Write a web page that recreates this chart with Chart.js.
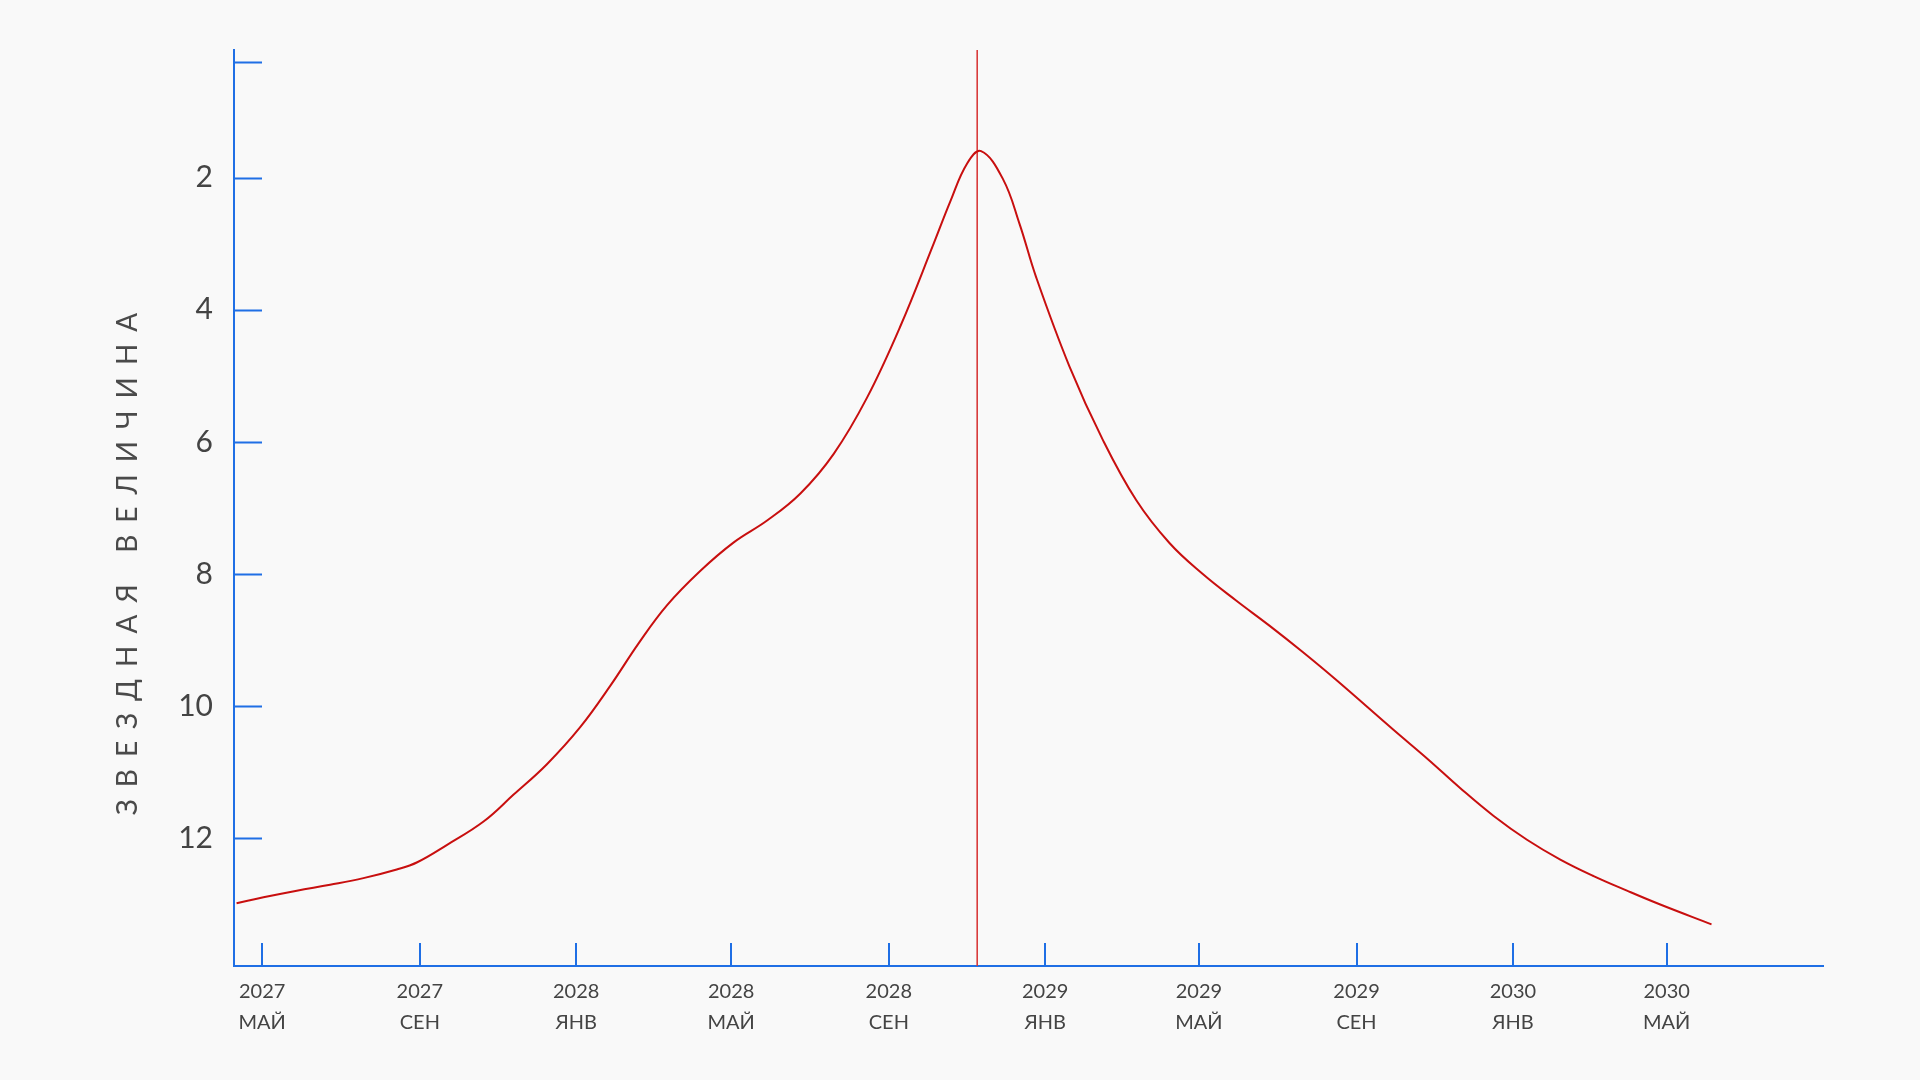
<!DOCTYPE html>
<html lang="ru">
<head>
<meta charset="utf-8">
<title>Звездная величина</title>
<script src="https://cdn.jsdelivr.net/npm/chart.js@4.4.1/dist/chart.umd.min.js"></script>
<style>
    html, body { margin: 0; padding: 0; background: #f9f9f9; }
    #wrap { width: 1920px; height: 1080px; }
</style>
</head>
<body>
<div id="wrap"><canvas id="chart" width="1920" height="1080"></canvas></div>
<script>
// дни от 1 мая 2027
const startDate = '2027-05-01';
const days = [-20, 1, 27, 53, 79, 105, 121, 144, 173, 196, 222, 248, 272, 294, 316, 342, 368, 394, 420,
    446, 472, 498, 524, 537, 550, 561, 578, 591, 604, 630, 656, 682, 708, 734, 760, 786, 812, 838,
    883, 909, 935, 961, 987, 1013, 1039, 1065, 1091, 1131];
const magnitudes = [12.98, 12.89, 12.79, 12.70, 12.60, 12.47, 12.36, 12.10, 11.74, 11.34, 10.88, 10.32, 9.68,
    9.04, 8.47, 7.95, 7.52, 7.19, 6.78, 6.18, 5.33, 4.25, 3.00, 2.36, 1.79, 1.60, 2.02, 2.70, 3.51,
    4.86, 5.97, 6.88, 7.53, 8.00, 8.40, 8.78, 9.18, 9.60, 10.36, 10.79, 11.24, 11.66, 12.02,
    12.32, 12.57, 12.79, 13.00, 13.30];
const perihelionDay = 558;

const xTickDates = ['2027-05-01', '2027-09-01', '2028-01-01', '2028-05-01', '2028-09-01',
    '2029-01-01', '2029-05-01', '2029-09-01', '2030-01-01', '2030-05-01'];
const xTickYears = ['2027', '2027', '2028', '2028', '2028', '2029', '2029', '2029', '2030', '2030'];
const xTickMonths = ['МАЙ', 'СЕН', 'ЯНВ', 'МАЙ', 'СЕН', 'ЯНВ', 'МАЙ', 'СЕН', 'ЯНВ', 'МАЙ'];
const yTicks = [0.25, 2, 4, 6, 8, 10, 12];
const yTitle = 'ЗВЕЗДНАЯ ВЕЛИЧИНА';

const xMin = -22, xMax = 1218;
const yMin = 0.07, yMax = 13.93;
const axisColor = '#1f6fe5';
const textColor = '#444444';

const dayOf = d => (Date.parse(d) - Date.parse(startDate)) / 86400000;
const xTickDays = xTickDates.map(dayOf);

const innerTicks = {
    id: 'innerTicks',
    afterDraw(chart) {
        const { ctx, chartArea, scales: { x, y } } = chart;
        ctx.save();
        ctx.strokeStyle = axisColor;
        ctx.lineWidth = 2;
        ctx.beginPath();
        y.ticks.forEach(t => {
            const py = Math.round(y.getPixelForValue(t.value)) + 0.5;
            ctx.moveTo(chartArea.left, py);
            ctx.lineTo(chartArea.left + 28, py);
        });
        x.ticks.forEach(t => {
            const px = Math.round(x.getPixelForValue(t.value));
            ctx.moveTo(px, chartArea.bottom);
            ctx.lineTo(px, chartArea.bottom - 23);
        });
        ctx.stroke();

        // подпись оси Y с разрядкой
        ctx.translate(128, (chartArea.top + chartArea.bottom) / 2 + 50);
        ctx.rotate(-Math.PI / 2);
        ctx.fillStyle = '#4a4a4a';
        ctx.font = '28px Lato';
        ctx.letterSpacing = '12px';
        ctx.textAlign = 'center';
        ctx.textBaseline = 'middle';
        ctx.fillText(yTitle, 0, 0);
        ctx.restore();
    }
};

new Chart(document.getElementById('chart'), {
    type: 'line',
    data: {
        datasets: [{
            data: days.map((d, i) => ({ x: d, y: magnitudes[i] })),
            borderColor: '#c80f0f',
            borderWidth: 2,
            pointRadius: 0,
            tension: 0.4
        }, {
            data: [{ x: perihelionDay, y: yMin }, { x: perihelionDay, y: yMax }],
            borderColor: '#d83a3a',
            borderWidth: 1,
            pointRadius: 0
        }]
    },
    options: {
        responsive: false,
        animation: false,
        layout: {
            padding: { top: 50, right: 97, left: 0, bottom: 0 }
        },
        plugins: {
            legend: { display: false },
            tooltip: { enabled: false }
        },
        scales: {
            x: {
                type: 'linear',
                min: xMin,
                max: xMax,
                afterBuildTicks: scale => {
                    scale.ticks = xTickDays.map(v => ({ value: v }));
                },
                afterFit: scale => { scale.height = 114; },
                grid: { display: true, drawOnChartArea: false, drawTicks: false },
                border: { color: axisColor, width: 2 },
                ticks: {
                    autoSkip: false,
                    maxRotation: 0,
                    padding: 10,
                    color: textColor,
                    font: { family: 'Lato', size: 20, lineHeight: 1.55 },
                    callback: (value, index) => [xTickYears[index], xTickMonths[index]]
                }
            },
            y: {
                type: 'linear',
                reverse: true,
                min: yMin,
                max: yMax,
                afterBuildTicks: scale => {
                    scale.ticks = yTicks.map(v => ({ value: v }));
                },
                afterFit: scale => { scale.width = 234; },
                grid: { display: true, drawOnChartArea: false, drawTicks: false },
                border: { color: axisColor, width: 2 },
                ticks: {
                    padding: 21,
                    color: textColor,
                    font: { family: 'Lato', size: 30 },
                    callback: value => (Number.isInteger(value) ? String(value) : '')
                }
            }
        }
    },
    plugins: [innerTicks]
});
</script>
</body>
</html>
